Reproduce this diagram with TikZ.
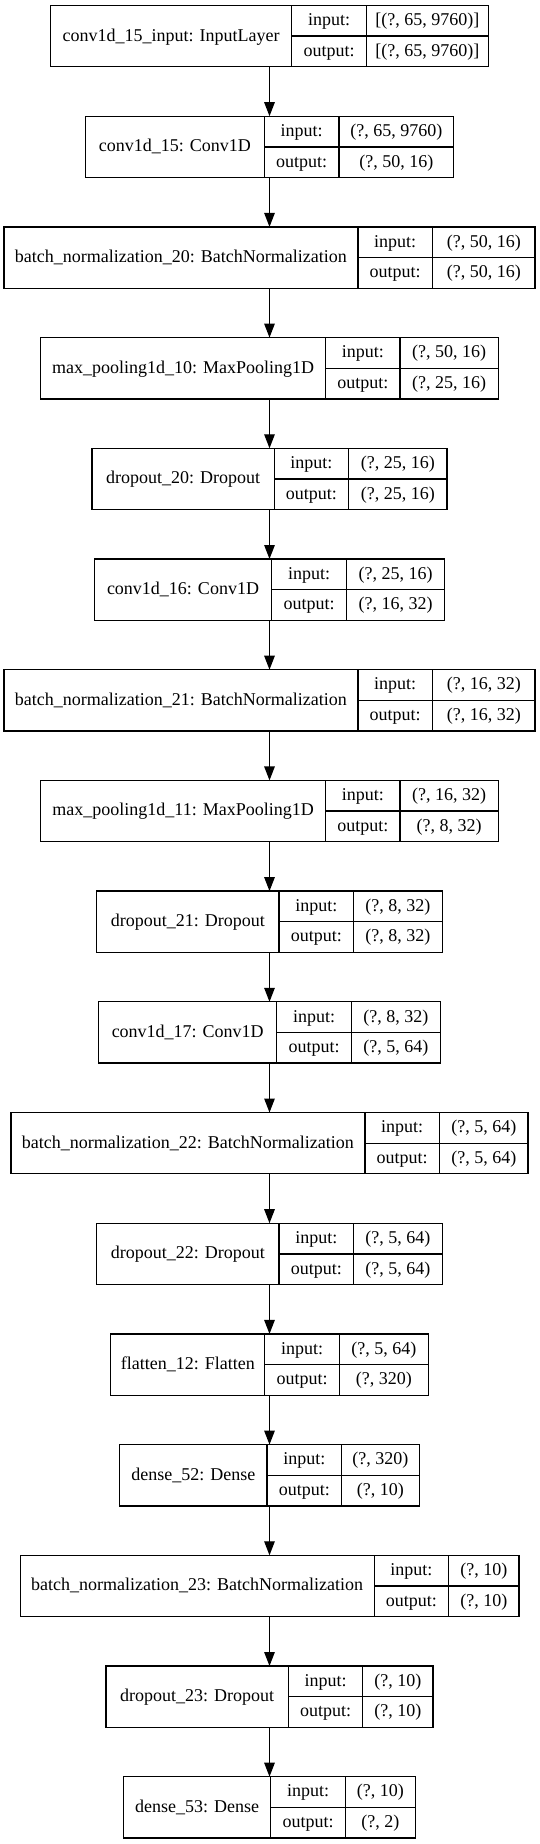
\documentclass[tikz,border=0pt]{standalone}
\usepackage{fontspec}
\setmainfont{Liberation Serif}
\usetikzlibrary{arrows.meta}
\tikzset{
  layerbox/.style={draw=black, line width=1.3pt, inner sep=0pt, outer sep=0pt, minimum height=61.3pt, fill=white},
  divline/.style={draw=black, line width=1.3pt},
  txt/.style={inner sep=0pt, outer sep=0pt, anchor=base, font=\fontsize{18}{20}\selectfont},
  arr/.style={draw=black, line width=1.3pt, -{Triangle[length=14pt,width=10.5pt]}}
}
\newcommand\mylayer[7]{%
  \pgfmathsetmacro\Ltop{5.5+110.7*#2}%
  \pgfmathsetmacro\Lw{#3+74.5+#4}%
  \pgfmathsetmacro\Lx{269.5-\Lw/2}%
  \pgfmathsetmacro\Lda{\Lx+#3}%
  \pgfmathsetmacro\Ldb{\Lda+74.5}%
  \pgfmathsetmacro\Lr{\Lx+\Lw}%
  \pgfmathsetmacro\Lbot{\Ltop+61.3}%
  \pgfmathsetmacro\Lmid{\Ltop+30.65}%
  \pgfmathsetmacro\Lnx{(\Lx+\Lda)/2}%
  \pgfmathsetmacro\Llx{(\Lda+\Ldb)/2}%
  \pgfmathsetmacro\Lvx{(\Ldb+\Lr)/2}%
  \pgfmathsetmacro\Lny{\Lmid+4.9}%
  \pgfmathsetmacro\Liy{\Ltop+15.33+4.9}%
  \pgfmathsetmacro\Loy{\Ltop+45.98+4.9}%
  \node[layerbox, minimum width=\Lw pt] (#1) at (269.5,\Lmid) {};
  \draw[divline] (\Lda,\Ltop) -- (\Lda,\Lbot);
  \draw[divline] (\Ldb,\Ltop) -- (\Ldb,\Lbot);
  \draw[divline] (\Lda,\Lmid) -- (\Lr,\Lmid);
  \node[txt] (#1-name) at (\Lnx,\Lny) {#5};
  \node[txt] (#1-inl) at (\Llx,\Liy) {input:};
  \node[txt] (#1-outl) at (\Llx,\Loy) {output:};
  \node[txt] (#1-inv) at (\Lvx,\Liy) {#6};
  \node[txt] (#1-outv) at (\Lvx,\Loy) {#7};
}
\begin{document}
\begin{tikzpicture}[x=1pt,y=-1pt]
\fill[white] (0,0) rectangle (539,1844);
\useasboundingbox (0,0) rectangle (539,1844);
\mylayer{L1}{0}{241.4}{122.3}{conv1d\_15\_input: InputLayer}{[(?, 65, 9760)]}{[(?, 65, 9760)]}
\mylayer{L2}{1}{179.1}{114.7}{conv1d\_15: Conv1D}{(?, 65, 9760)}{(?, 50, 16)}
\mylayer{L3}{2}{354.0}{102.7}{batch\_normalization\_20: BatchNormalization}{(?, 50, 16)}{(?, 50, 16)}
\mylayer{L4}{3}{284.9}{98.3}{max\_pooling1d\_10: MaxPooling1D}{(?, 50, 16)}{(?, 25, 16)}
\mylayer{L5}{4}{182.2}{98.3}{dropout\_20: Dropout}{(?, 25, 16)}{(?, 25, 16)}
\mylayer{L6}{5}{177.6}{98.5}{conv1d\_16: Conv1D}{(?, 25, 16)}{(?, 16, 32)}
\mylayer{L7}{6}{354.0}{102.7}{batch\_normalization\_21: BatchNormalization}{(?, 16, 32)}{(?, 16, 32)}
\mylayer{L8}{7}{284.9}{98.3}{max\_pooling1d\_11: MaxPooling1D}{(?, 16, 32)}{(?, 8, 32)}
\mylayer{L9}{8}{182.2}{88.7}{dropout\_21: Dropout}{(?, 8, 32)}{(?, 8, 32)}
\mylayer{L10}{9}{178.1}{89.0}{conv1d\_17: Conv1D}{(?, 8, 32)}{(?, 5, 64)}
\mylayer{L11}{10}{354.0}{88.7}{batch\_normalization\_22: BatchNormalization}{(?, 5, 64)}{(?, 5, 64)}
\mylayer{L12}{11}{182.2}{88.7}{dropout\_22: Dropout}{(?, 5, 64)}{(?, 5, 64)}
\mylayer{L13}{12}{154.1}{89.0}{flatten\_12: Flatten}{(?, 5, 64)}{(?, 320)}
\mylayer{L14}{13}{147.3}{77.7}{dense\_52: Dense}{(?, 320)}{(?, 10)}
\mylayer{L15}{14}{354.0}{70.2}{batch\_normalization\_23: BatchNormalization}{(?, 10)}{(?, 10)}
\mylayer{L16}{15}{182.2}{70.2}{dropout\_23: Dropout}{(?, 10)}{(?, 10)}
\mylayer{L17}{16}{147.3}{70.2}{dense\_53: Dense}{(?, 10)}{(?, 2)}
\draw[arr] (L1.south) -- (L2.north);
\draw[arr] (L2.south) -- (L3.north);
\draw[arr] (L3.south) -- (L4.north);
\draw[arr] (L4.south) -- (L5.north);
\draw[arr] (L5.south) -- (L6.north);
\draw[arr] (L6.south) -- (L7.north);
\draw[arr] (L7.south) -- (L8.north);
\draw[arr] (L8.south) -- (L9.north);
\draw[arr] (L9.south) -- (L10.north);
\draw[arr] (L10.south) -- (L11.north);
\draw[arr] (L11.south) -- (L12.north);
\draw[arr] (L12.south) -- (L13.north);
\draw[arr] (L13.south) -- (L14.north);
\draw[arr] (L14.south) -- (L15.north);
\draw[arr] (L15.south) -- (L16.north);
\draw[arr] (L16.south) -- (L17.north);
\end{tikzpicture}
\end{document}
